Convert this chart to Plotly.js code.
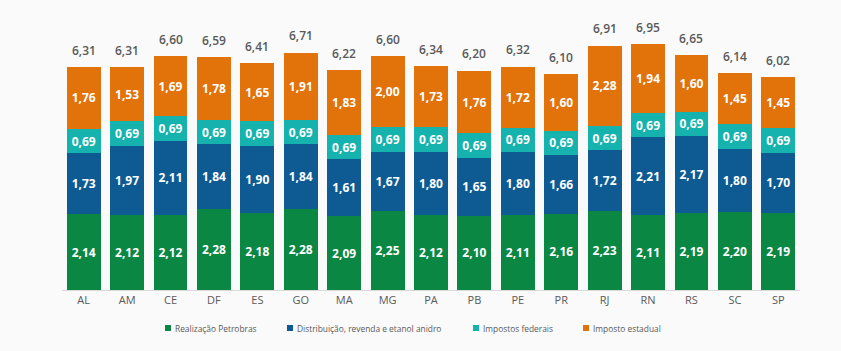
<!DOCTYPE html>
<html><head><meta charset="utf-8">
<script src="https://cdn.plot.ly/plotly-3.0.1.min.js"></script>
<style>html,body{margin:0;padding:0;background:#fafafa;}</style>
</head><body>
<div id="chart" style="width:841px;height:351px;"></div>
<script>
const estados = ["AL","AM","CE","DF","ES","GO","MA","MG","PA","PB","PE","PR","RJ","RN","RS","SC","SP"];
const realizacao = [2.14,2.12,2.12,2.28,2.18,2.28,2.09,2.25,2.12,2.10,2.11,2.16,2.23,2.11,2.19,2.20,2.19];
const distribuicao = [1.73,1.97,2.11,1.84,1.90,1.84,1.61,1.67,1.80,1.65,1.80,1.66,1.72,2.21,2.17,1.80,1.70];
const federais = [0.69,0.69,0.69,0.69,0.69,0.69,0.69,0.69,0.69,0.69,0.69,0.69,0.69,0.69,0.69,0.69,0.69];
const estadual = [1.76,1.53,1.69,1.78,1.65,1.91,1.83,2.00,1.73,1.76,1.72,1.60,2.28,1.94,1.60,1.45,1.45];
const totais = [6.31,6.31,6.60,6.59,6.41,6.71,6.22,6.60,6.34,6.20,6.32,6.10,6.91,6.95,6.65,6.14,6.02];
const series = ["Realização Petrobras","Distribuição, revenda e etanol anidro","Impostos federais","Imposto estadual"];
const cores = ["#0a8743","#0e5b93","#16b2ad","#e2720a"];

const FONT = "Open Sans, DejaVu Sans, sans-serif";
const W = 841, H = 351, ML = 62, MR = 41, MT = 30, MB = 61;
const PW = W - ML - MR, PH = H - MT - MB;

function barTrace(name, vals, color){
  return {
    type:"bar", name:name, x:estados, y:vals,
    marker:{color:color},
    texttemplate:"%{y:.2f}", textposition:"inside", insidetextanchor:"middle",
    textangle:0, constraintext:"none",
    textfont:{family:FONT, size:12, color:"#ffffff", weight:"bold"},
    hoverinfo:"skip", showlegend:false
  };
}
const valores = [realizacao, distribuicao, federais, estadual];
const data = series.map((s,i)=>barTrace(s, valores[i], cores[i]));

const fmt = v => v.toFixed(2).replace(".", ",");
const annotations = estados.map((e,i)=>({
  x:e, y:totais[i], xref:"x", yref:"y", text:fmt(totais[i]), showarrow:false,
  yanchor:"middle", yshift:17, font:{family:FONT, size:12, color:"#595959", weight:600}
}));

// manual legend
const legMarkX = [168, 290, 476, 586];
const legY = 328;
const px2x = px => (px - ML) / PW;
const py2y = py => (H - MB - py) / PH;
const shapes = [];
series.forEach((s,i)=>{
  shapes.push({type:"rect", xref:"paper", yref:"paper",
    x0:px2x(legMarkX[i]-3), x1:px2x(legMarkX[i]+3),
    y0:py2y(legY+3), y1:py2y(legY-3),
    fillcolor:cores[i], line:{width:0}});
  annotations.push({xref:"paper", yref:"paper", x:px2x(legMarkX[i]+5), y:py2y(legY),
    xanchor:"left", yanchor:"middle", showarrow:false, text:s,
    font:{family:FONT, size:8.4, color:"#595959"}});
});

const layout = {
  width:W, height:H,
  margin:{l:ML, r:MR, t:MT, b:MB},
  paper_bgcolor:"#fafafa", plot_bgcolor:"#fafafa",
  barmode:"stack", bargap:0.22,
  separators:",.",
  font:{family:FONT, color:"#595959"},
  xaxis:{range:[-0.5,16.5], showline:true, linecolor:"#d9d9d9", linewidth:1, ticks:"", tickfont:{size:11, color:"#595959"}, showgrid:false, fixedrange:true, automargin:false},
  yaxis:{range:[0,7.36], visible:false, showgrid:false, zeroline:false, fixedrange:true, automargin:false},
  showlegend:false,
  annotations:annotations,
  shapes:shapes
};
Plotly.newPlot("chart", data, layout, {displayModeBar:false, staticPlot:true});
</script>
</body></html>
